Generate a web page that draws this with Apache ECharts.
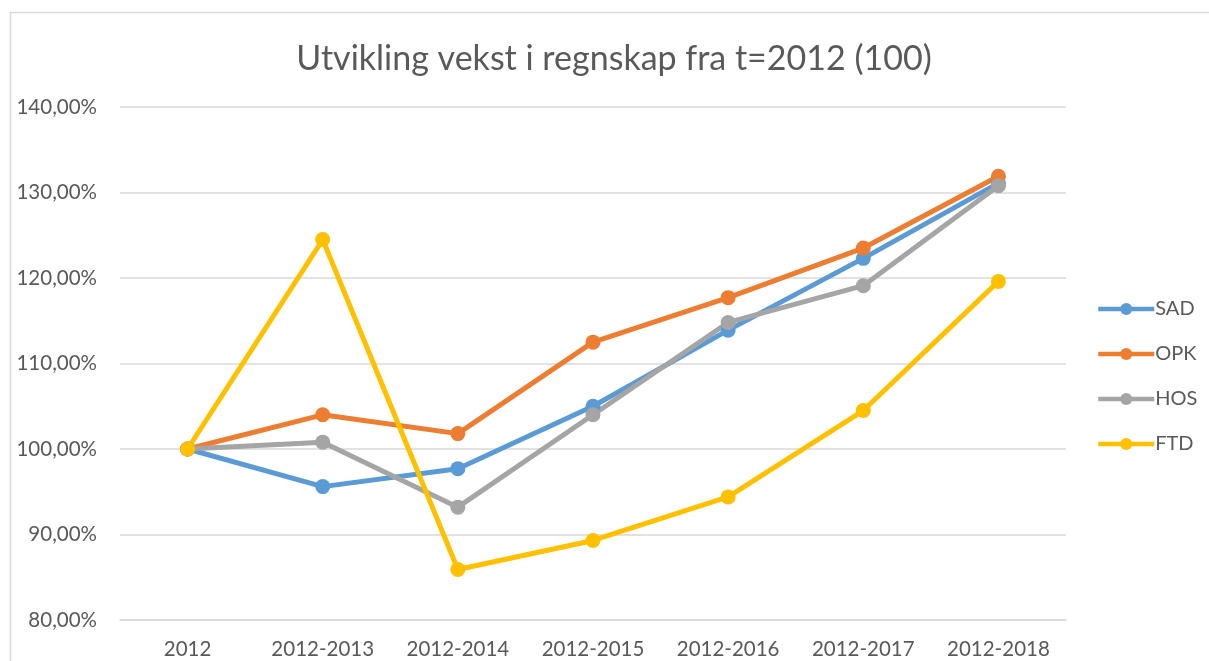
<!DOCTYPE html>
<html>
<head>
<meta charset="utf-8">
<title>Utvikling vekst i regnskap</title>
<script src="https://cdn.jsdelivr.net/npm/echarts@6/dist/echarts.min.js"></script>
<style>
  html, body { margin: 0; padding: 0; background: #fff; }
  #chart { width: 1209px; height: 661px; }
</style>
</head>
<body>
<div id="chart"></div>
<script>
// kategorier (x-akse)
const periods = ["2012", "2012-2013", "2012-2014", "2012-2015", "2012-2016", "2012-2017", "2012-2018"];

// indeks i prosent, 2012 = 100
const sad = [100, 95.6, 97.7, 105.0, 113.9, 122.3, 131.1];
const opk = [100, 104.0, 101.8, 112.5, 117.7, 123.5, 131.9];
const hos = [100, 100.8, 93.2, 104.0, 114.8, 119.1, 130.8];
const ftd = [100, 124.5, 85.9, 89.3, 94.4, 104.5, 119.6];

const seriesNames = ["SAD", "OPK", "HOS", "FTD"];
const seriesColors = ["#5B9BD5", "#ED7D31", "#A5A5A5", "#FFC000"];

const font = "Lato, 'Open Sans', sans-serif";
const textColor = "#595959";

const chart = echarts.init(document.getElementById("chart"));

const option = {
  animation: false,
  backgroundColor: "#fff",
  color: seriesColors,
  // ramme rundt diagrammet
  graphic: [
    {
      type: "rect",
      shape: { x: 10.5, y: 12.5, width: 1300, height: 700 },
      style: { fill: "none", stroke: "#d9d9d9", lineWidth: 1.5 },
      silent: true
    }
  ],
  title: {
    text: "Utvikling vekst i regnskap fra t=2012 (100)",
    left: 609,
    textAlign: "center",
    top: 37,
    textStyle: {
      fontFamily: font,
      fontSize: 34,
      fontWeight: "normal",
      color: textColor
    }
  },
  legend: {
    orient: "vertical",
    left: 1091,
    top: 294,
    itemWidth: 56,
    itemHeight: 15,
    itemGap: 25,
    lineStyle: { width: 4.5 },
    textStyle: { fontFamily: font, fontSize: 20, color: textColor, padding: [0, 0, 0, -4] },
    data: seriesNames
  },
  grid: {
    left: 120,
    right: 143,
    top: 107,
    bottom: 41,
    containLabel: false
  },
  xAxis: {
    type: "category",
    data: periods,
    boundaryGap: true,
    axisLine: { show: true, lineStyle: { color: "#d9d9d9", width: 1.5 } },
    axisTick: { show: false },
    axisLabel: {
      interval: 0,
      margin: 19,
      fontFamily: font,
      fontSize: 20.5,
      color: textColor
    }
  },
  yAxis: {
    type: "value",
    min: 80,
    max: 140,
    interval: 10,
    axisLine: { show: false },
    axisTick: { show: false },
    splitLine: { lineStyle: { color: "#d9d9d9", width: 1.5 } },
    axisLabel: {
      margin: 23,
      fontFamily: font,
      fontSize: 20.5,
      color: textColor,
      formatter: v => v.toFixed(2).replace(".", ",") + "%"
    }
  },
  series: [sad, opk, hos, ftd].map((data, i) => ({
    name: seriesNames[i],
    type: "line",
    data: data,
    symbol: "circle",
    symbolSize: 15,
    lineStyle: { width: 5, color: seriesColors[i] },
    itemStyle: { color: seriesColors[i] },
    emphasis: { disabled: true }
  }))
};

chart.setOption(option);
</script>
</body>
</html>
